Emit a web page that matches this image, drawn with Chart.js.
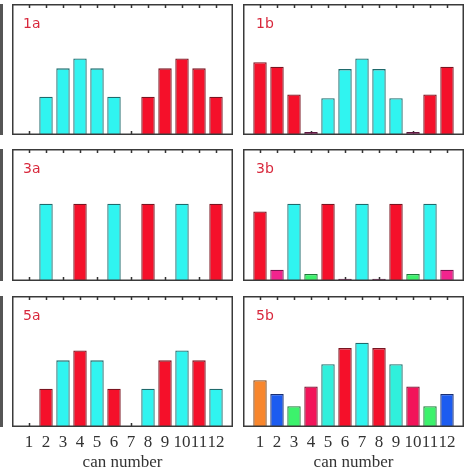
<!DOCTYPE html>
<html>
<head>
<meta charset="utf-8">
<script src="https://cdn.jsdelivr.net/npm/chart.js@4.4.1/dist/chart.umd.min.js"></script>
<style>
    html, body { margin: 0; padding: 0; background: #fff; }
    body { width: 474px; height: 474px; position: relative; overflow: hidden; }
    canvas { position: absolute; }
    .edge { position: absolute; left: 0; width: 3px; background: #555; }
</style>
</head>
<body>
<div class="edge" style="top:4px;height:131px"></div>
<div class="edge" style="top:149px;height:132px"></div>
<div class="edge" style="top:296px;height:131px"></div>

<canvas id="p1a" width="221" height="131" style="left:12px;top:4px;width:221px;height:131px"></canvas>
<canvas id="p1b" width="221" height="131" style="left:243px;top:4px;width:221px;height:131px"></canvas>
<canvas id="p3a" width="221" height="132" style="left:12px;top:149px;width:221px;height:132px"></canvas>
<canvas id="p3b" width="221" height="132" style="left:243px;top:149px;width:221px;height:132px"></canvas>
<canvas id="p5a" width="221" height="178" style="left:12px;top:296px;width:221px;height:178px"></canvas>
<canvas id="p5b" width="221" height="178" style="left:243px;top:296px;width:221px;height:178px"></canvas>

<script>
// can numbers (tick labels)
const cans = ['1', '2', '3', '4', '5', '6', '7', '8', '9', '10', '11', '12'];

// bar heights per panel (null = no bar)
const valores1a = [null, 0.5, 0.87, 1.0, 0.87, 0.5, null, 0.5, 0.87, 1.0, 0.87, 0.5];
const valores1b = [0.95, 0.89, 0.53, 0.04, 0.48, 0.86, 1.0, 0.86, 0.48, 0.04, 0.53, 0.89];
const valores3a = [null, 1.0, null, 1.0, null, 1.0, null, 1.0, null, 1.0, null, 1.0];
const valores3b = [0.9, 0.145, 1.0, 0.09, 1.0, 0.03, 1.0, 0.03, 1.0, 0.09, 1.0, 0.145];
const valores5a = [null, 0.5, 0.87, 1.0, 0.87, 0.5, null, 0.5, 0.87, 1.0, 0.87, 0.5];
const valores5b = [0.61, 0.43, 0.27, 0.53, 0.82, 1.03, 1.1, 1.03, 0.82, 0.53, 0.27, 0.43];

// colour key of each bar
const colores1a = ['', 'c', 'c', 'c', 'c', 'c', '', 'r', 'r', 'r', 'r', 'r'];
const colores1b = ['r', 'r', 'r', 'p', 'c', 'c', 'c', 'c', 'c', 'p', 'r', 'r'];
const colores3a = ['', 'c', '', 'r', '', 'c', '', 'r', '', 'c', '', 'r'];
const colores3b = ['r', 'm', 'c', 'g', 'r', 'p', 'c', 'p', 'r', 'g', 'c', 'm'];
const colores5a = ['', 'r', 'c', 'r', 'c', 'r', '', 'c', 'r', 'c', 'r', 'c'];
const colores5b = ['o', 'b', 'g', 'k', 't', 'r', 'c', 'r', 't', 'k', 'g', 'b'];

const paleta = {
    c: ['#30f4f0', '#1f6a6c'],
    r: ['#f5102a', '#7a1420'],
    p: ['#b22a7c', '#5e1840'],
    m: ['#f2248e', '#7a1450'],
    g: ['#3cf26c', '#1e7a3a'],
    o: ['#f8862c', '#7a461c'],
    b: ['#1c5cf0', '#1a2f72'],
    k: ['#f2145a', '#7a1232'],
    t: ['#30f0dc', '#1f6c6a'],
    '': ['#fff', '#fff']
};

const Y_MAX = 1.71;

const marcoPlugin = {
    id: 'marco',
    beforeDatasetsDraw: function (chart) {
        const ctx = chart.ctx;
        const area = chart.chartArea;
        const x = chart.scales.x;
        ctx.save();
        ctx.strokeStyle = '#333';
        ctx.lineWidth = 1.5;
        ctx.beginPath();
        for (let i = 1; i <= cans.length; i++) {
            const px = Math.round(x.getPixelForValue(i)) + 0.5;
            ctx.moveTo(px, area.top);
            ctx.lineTo(px, area.top + 4);
            ctx.moveTo(px, area.bottom);
            ctx.lineTo(px, area.bottom - 4);
        }
        ctx.stroke();
        ctx.restore();
    },
    afterDatasetsDraw: function (chart, args, opts) {
        const ctx = chart.ctx;
        const area = chart.chartArea;
        ctx.save();
        ctx.strokeStyle = '#3a3a3a';
        ctx.lineWidth = 1.5;
        ctx.strokeRect(area.left + 0.75, area.top + 0.75,
            area.right - area.left - 1.5, area.bottom - area.top - 1.5);
        ctx.font = '14px "DejaVu Sans", sans-serif';
        ctx.fillStyle = '#d8283c';
        ctx.textBaseline = 'alphabetic';
        ctx.fillText(opts.label, area.left + opts.dx, area.top + 24);
        ctx.restore();
    }
};

function crearPanel(id, etiqueta, valores, colores, conEje, dx) {
    const labels = [''].concat(cans, ['']);
    const data = [null].concat(valores, [null]);
    const claves = [''].concat(colores, ['']);

    new Chart(document.getElementById(id), {
        type: 'bar',
        data: {
            labels: labels,
            datasets: [{
                data: data,
                backgroundColor: claves.map(function (k) { return paleta[k][0]; }),
                borderColor: claves.map(function (k) { return paleta[k][1]; }),
                borderWidth: 1.3,
                categoryPercentage: 1,
                barPercentage: 0.79
            }]
        },
        plugins: [marcoPlugin],
        options: {
            responsive: false,
            maintainAspectRatio: false,
            animation: false,
            events: [],
            layout: { padding: 0 },
            scales: {
                x: {
                    display: conEje,
                    offset: false,
                    grid: { display: false, drawTicks: false },
                    border: { display: false },
                    ticks: {
                        autoSkip: false,
                        maxRotation: 0,
                        minRotation: 0,
                        padding: 5,
                        color: '#333',
                        font: { family: '"Liberation Serif", "Times New Roman", serif', size: 17 }
                    },
                    title: {
                        display: true,
                        text: 'can number',
                        color: '#333',
                        padding: { top: 0, bottom: 1 },
                        font: { family: '"Liberation Serif", "Times New Roman", serif', size: 17 }
                    },
                    afterFit: function (scale) {
                        // solo la fila de abajo lleva eje visible
                        if (!conEje) return;
                        scale.height = 47;
                        scale.paddingLeft = 0;
                        scale.paddingRight = 0;
                    }
                },
                y: {
                    display: false,
                    min: 0,
                    max: Y_MAX
                }
            },
            plugins: {
                legend: { display: false },
                tooltip: { enabled: false },
                marco: { label: etiqueta, dx: dx }
            }
        }
    });
}

crearPanel('p1a', '1a', valores1a, colores1a, false, 11);
crearPanel('p1b', '1b', valores1b, colores1b, false, 13);
crearPanel('p3a', '3a', valores3a, colores3a, false, 11);
crearPanel('p3b', '3b', valores3b, colores3b, false, 13);
crearPanel('p5a', '5a', valores5a, colores5a, true, 11);
crearPanel('p5b', '5b', valores5b, colores5b, true, 13);
</script>
</body>
</html>
